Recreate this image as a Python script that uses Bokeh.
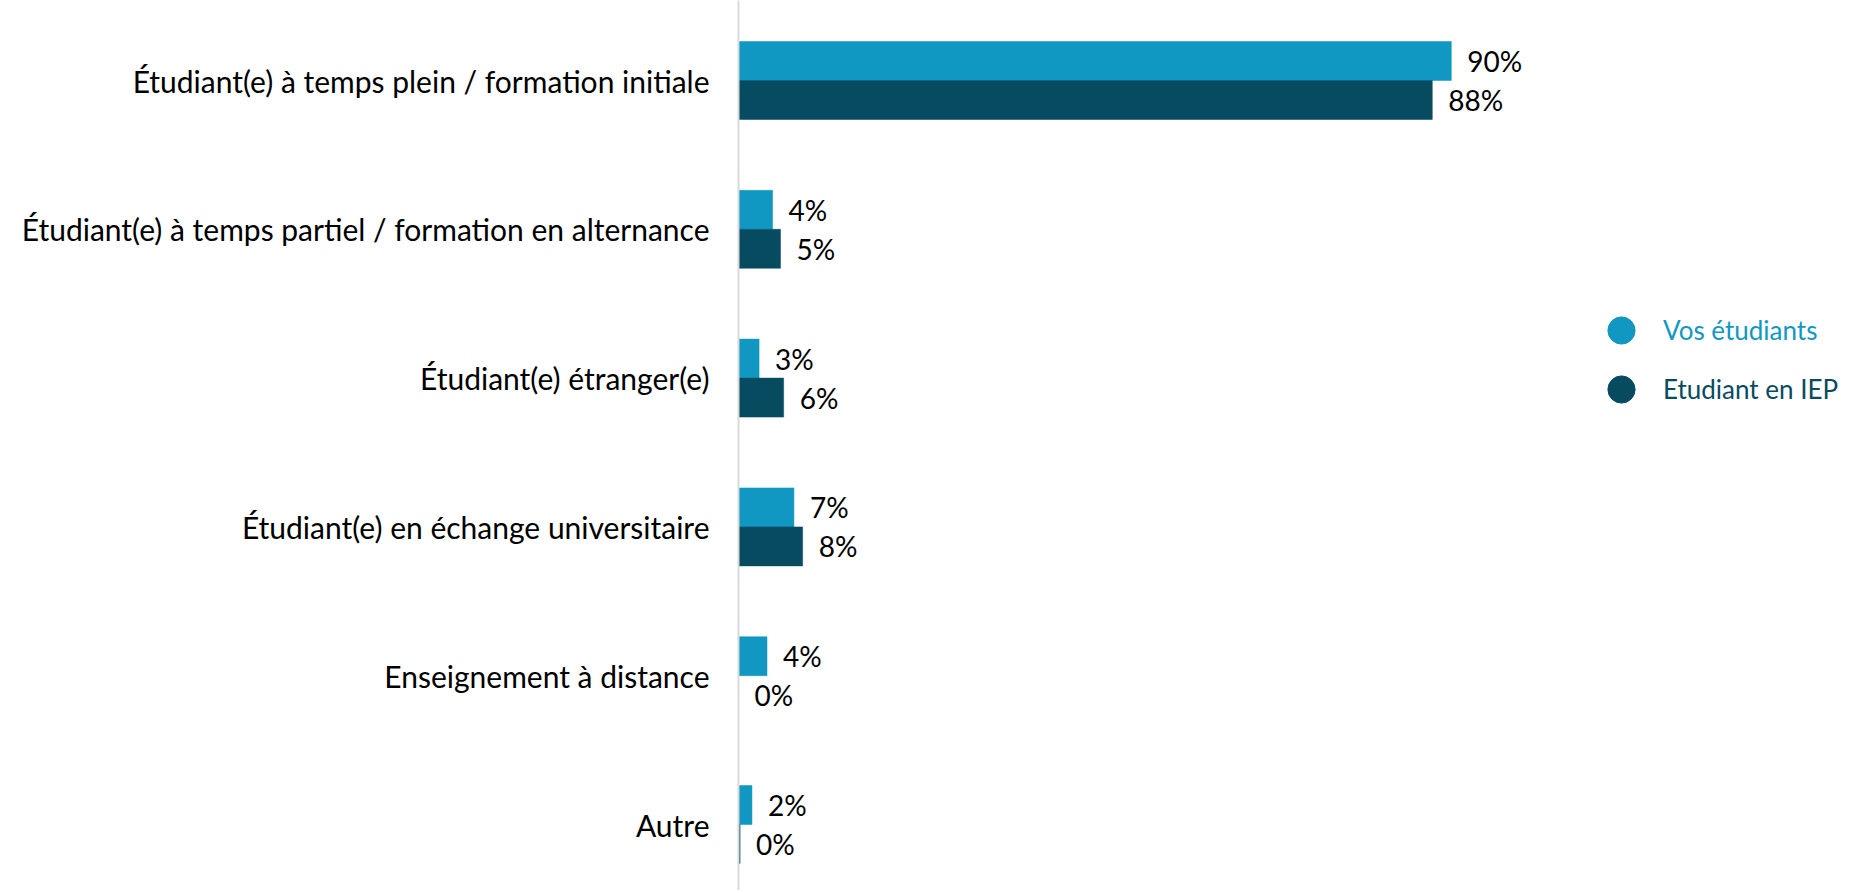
from bokeh.plotting import figure
from bokeh.models import ColumnDataSource, Range1d, FixedTicker, Legend, LegendItem
from bokeh.transform import dodge
from bokeh.core.properties import value
from bokeh.embed import file_html
from bokeh.resources import INLINE

# ---- data ----
categories = [
    "Étudiant(e) à temps plein / formation initiale",
    "Étudiant(e) à temps partiel / formation en alternance",
    "Étudiant(e) étranger(e)",
    "Étudiant(e) en échange universitaire",
    "Enseignement à distance",
    "Autre",
]
vos_etudiants = [90.0, 4.3, 2.6, 7.0, 3.6, 1.7]
etudiant_iep = [87.6, 5.3, 5.7, 8.1, 0.0, 0.2]
series_names = ["Vos étudiants", "Etudiant en IEP"]

BLUE = "#1097C2"
DARK = "#074B61"
FONT = "Lato"

idx = list(range(len(categories)))
src = ColumnDataSource(dict(
    y=idx,
    vos=vos_etudiants,
    iep=etudiant_iep,
    vos_lbl=[f"{round(v)}%" for v in vos_etudiants],
    iep_lbl=[f"{round(v)}%" for v in etudiant_iep],
))

W, H = 1846, 890
LEFT = 738
p = figure(width=W, height=H, output_backend="svg", toolbar_location=None,
           x_axis_location=None,
           x_range=Range1d(0, (W - LEFT) / 7.92),
           y_range=Range1d((H - 80) / 148.8, -80 / 148.8),
           min_border_left=LEFT, min_border_right=0, min_border_top=0, min_border_bottom=0)
p.outline_line_color = None
p.xgrid.visible = False
p.ygrid.visible = False
p.background_fill_color = "white"
p.border_fill_color = "white"

bh = 0.262
off = bh / 2
p.hbar(y=dodge("y", -off, range=p.y_range), left=0, right="vos", height=bh,
       fill_color=BLUE, line_color=BLUE, line_width=0.5, source=src)
p.hbar(y=dodge("y", off, range=p.y_range), left=0, right="iep", height=bh,
       fill_color=DARK, line_color=DARK, line_width=0.5, source=src)

p.text(x="vos", y=dodge("y", -off, range=p.y_range), text="vos_lbl", source=src,
       x_offset=16, text_align="left", text_baseline="middle",
       text_font=value(FONT), text_font_size="28px", text_color="#000000")
p.text(x="iep", y=dodge("y", off, range=p.y_range), text="iep_lbl", source=src,
       x_offset=16, text_align="left", text_baseline="middle",
       text_font=value(FONT), text_font_size="28px", text_color="#000000")

ax = p.yaxis[0]
ax.ticker = FixedTicker(ticks=idx)
ax.major_label_overrides = {i: c for i, c in zip(idx, categories)}
ax.axis_line_color = "#D9D9D9"
ax.axis_line_width = 2
ax.major_tick_line_color = None
ax.minor_tick_line_color = None
ax.major_tick_out = 0
ax.major_tick_in = 0
ax.major_label_standoff = 29
ax.major_label_text_font = FONT
ax.major_label_text_font_size = "30px"
ax.major_label_text_color = "#000000"

# legend: two single-item legends so each label gets its own colour
r1 = p.scatter(x="vos", y="y", source=src, marker="circle", fill_color=BLUE, line_color=BLUE)
r2 = p.scatter(x="iep", y="y", source=src, marker="circle", fill_color=DARK, line_color=DARK)
r1.visible = False
r2.visible = False
for r, name, col, vy in [(r1, series_names[0], BLUE, 526), (r2, series_names[1], DARK, 467)]:
    lg = Legend(items=[LegendItem(label=value(name), renderers=[r])],
                location=(849, vy), orientation="vertical",
                glyph_width=68, glyph_height=68, label_standoff=8,
                padding=0, margin=0, spacing=0,
                border_line_color=None, background_fill_alpha=0,
                label_text_font=FONT, label_text_font_size="26px",
                label_text_color=col)
    p.add_layout(lg, "center")

open("out.html", "w").write(file_html(p, INLINE))
